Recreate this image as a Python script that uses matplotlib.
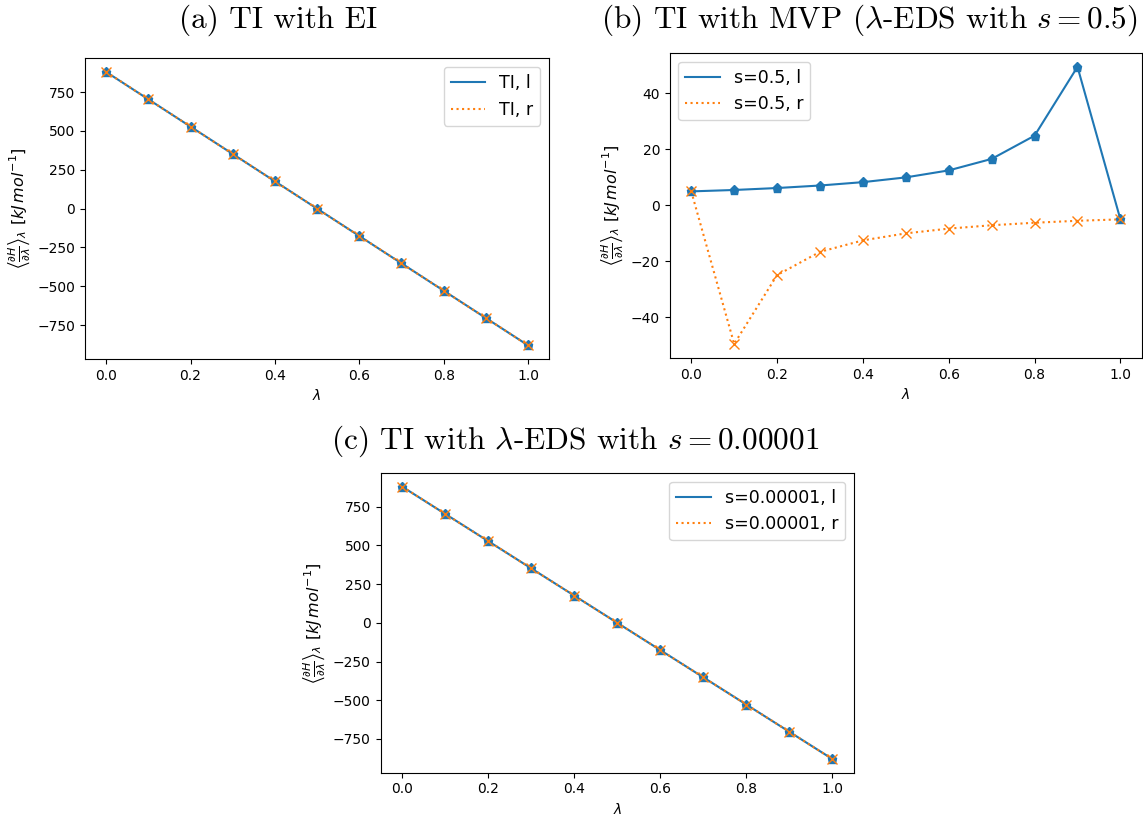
import matplotlib
matplotlib.use("Agg")
import matplotlib.pyplot as plt

lam = [0.0, 0.1, 0.2, 0.3, 0.4, 0.5, 0.6, 0.7, 0.8, 0.9, 1.0]

# (a) TI with EI
ei_l = [880, 704, 528, 352, 176, 0, -176, -352, -528, -704, -880]
ei_r = [880, 704, 528, 352, 176, 0, -176, -352, -528, -704, -880]

# (b) MVP, s = 0.5
mvp_l = [5.0, 5.5, 6.2, 7.1, 8.3, 10.0, 12.5, 16.6, 24.9, 49.5, -5.0]
mvp_r = [5.0, -49.5, -24.9, -16.6, -12.5, -10.0, -8.3, -7.1, -6.2, -5.5, -5.0]

# (c) lambda-EDS, s = 0.00001
eds_l = [880, 704, 528, 352, 176, 0, -176, -352, -528, -704, -880]
eds_r = [880, 704, 528, 352, 176, 0, -176, -352, -528, -704, -880]

titles = [r"(a) TI with EI",
          r"(b) TI with MVP ($\lambda$-EDS with $s = 0.5$)",
          r"(c) TI with $\lambda$-EDS with $s = 0.00001$"]

ylab = r"$\left\langle\frac{\partial H}{\partial \lambda}\right\rangle_{\lambda}\ [kJ\,mol^{-1}]$"

fig = plt.figure(figsize=(11.43, 8.15), dpi=100)

ax_a = fig.add_axes([0.0744, 0.5595, 0.406, 0.369])
ax_b = fig.add_axes([0.586, 0.561, 0.413, 0.374])
ax_c = fig.add_axes([0.333, 0.052, 0.414, 0.3676])

panels = [
    (ax_a, ei_l, ei_r, "TI, l", "TI, r", "upper right"),
    (ax_b, mvp_l, mvp_r, "s=0.5, l", "s=0.5, r", "upper left"),
    (ax_c, eds_l, eds_r, "s=0.00001, l", "s=0.00001, r", "upper right"),
]

for ax, yl, yr, lab_l, lab_r, loc in panels:
    ax.plot(lam, yl, "-", color="C0", label=lab_l)
    ax.plot(lam, yr, ":", color="C1", label=lab_r)
    ax.plot(lam, yl, "p", color="C0", markersize=6.5)
    ax.plot(lam, yr, "x", color="C1", markersize=6.5)
    ax.set_xlabel(r"$\lambda$")
    ax.set_ylabel(ylab, fontsize=11.5)
    ax.legend(loc=loc, fontsize=12.5)

title_pos = [(0.243, 0.975), (0.761, 0.975), (0.503, 0.458)]
for (x, y), t in zip(title_pos, titles):
    fig.text(x, y, t, ha="center", va="center", fontsize=22.5,
             fontfamily="cmr10", math_fontfamily="cm")

fig.savefig("out.png", dpi=100)
